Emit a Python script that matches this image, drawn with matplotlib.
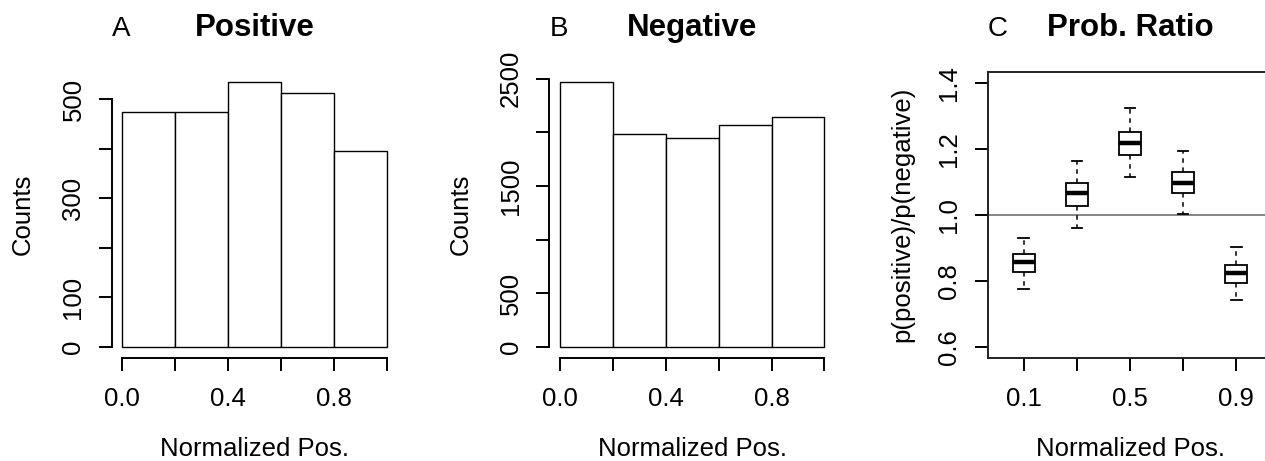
import matplotlib
matplotlib.use('Agg')
import matplotlib.pyplot as plt
import numpy as np

plt.rcParams['font.family'] = ['Liberation Sans', 'DejaVu Sans']

# histogram data (bin edges 0..1 by 0.2)
bin_edges = [0.0, 0.2, 0.4, 0.6, 0.8, 1.0]
pos_counts = [474, 474, 534, 512, 396]
neg_counts = [2466, 1981, 1947, 2071, 2139]

# box plot stats for the probability ratio
box_pos = ['0.1', '0.3', '0.5', '0.7', '0.9']
box_whislo = [0.777, 0.960, 1.114, 1.002, 0.742]
box_q1 = [0.829, 1.028, 1.183, 1.067, 0.794]
box_med = [0.857, 1.067, 1.219, 1.098, 0.824]
box_q3 = [0.881, 1.096, 1.253, 1.132, 0.849]
box_whishi = [0.932, 1.165, 1.324, 1.194, 0.904]

W, H = 1265, 461
fig = plt.figure(figsize=(W / 100, H / 100), dpi=100)

fs_tick = 18.5
fs_title = 22.5
fs_letter = 20
ax_lw = 1.4


def px_axes(left, width, top=71.8, bottom=357.5):
    return fig.add_axes([left / W, (H - bottom) / H, width / W, (bottom - top) / H])


def style_axes(ax):
    ax.tick_params(axis='both', direction='out', width=ax_lw, labelsize=fs_tick)
    ax.tick_params(axis='x', length=9, pad=12.5)
    ax.tick_params(axis='y', length=9.4, pad=9.5, labelrotation=90)
    for lab in ax.get_yticklabels():
        lab.set_va('center')


def labels(ax, letter, title, ylabel, ylab_x):
    ax.text(0.0, 1.1264, letter, transform=ax.transAxes, ha='left', va='baseline',
            fontsize=fs_letter)
    ax.text(0.5, 1.1264, title, transform=ax.transAxes, ha='center', va='baseline',
            fontsize=fs_title, fontweight='bold')
    ax.text(0.5, -0.3448, 'Normalized Pos.', transform=ax.transAxes, ha='center',
            va='baseline', fontsize=fs_tick)
    ax.text(ylab_x, 0.5, ylabel, transform=ax.transAxes, ha='center', va='center',
            rotation=90, fontsize=fs_tick)


def hist_panel(ax, counts, yticks, ylabels, letter, title):
    lefts = bin_edges[:-1]
    widths = np.diff(bin_edges)
    ax.bar(lefts, counts, width=widths, align='edge', color='white',
           edgecolor='black', linewidth=1.0)
    ymax = max(counts)
    ax.set_xlim(-0.04, 1.04)
    ax.set_ylim(-0.04 * ymax, 1.04 * ymax)
    for s in ['top', 'right']:
        ax.spines[s].set_visible(False)
    ax.spines['left'].set_bounds(yticks[0], yticks[-1])
    ax.spines['bottom'].set_bounds(0, 1)
    for s in ['left', 'bottom']:
        ax.spines[s].set_linewidth(ax_lw)
    ax.set_xticks(bin_edges)
    ax.set_xticklabels(['0.0', '', '0.4', '', '0.8', ''])
    ax.set_yticks(yticks)
    ax.set_yticklabels(ylabels)
    style_axes(ax)
    labels(ax, letter, title, 'Counts', -0.31)


axA = px_axes(111.7, 285.6)
hist_panel(axA, pos_counts, [0, 100, 200, 300, 400, 500],
           ['0', '100', '', '300', '', '500'], 'A', 'Positive')

axB = px_axes(549.4, 285.6)
hist_panel(axB, neg_counts, [0, 500, 1000, 1500, 2000, 2500],
           ['0', '500', '', '1500', '', '2500'], 'B', 'Negative')

# panel C: box plots (frame runs past the right edge of the figure)
axC = px_axes(987.7, 284.6)
stats = []
for i in range(len(box_pos)):
    stats.append({'whislo': box_whislo[i], 'q1': box_q1[i], 'med': box_med[i],
                  'q3': box_q3[i], 'whishi': box_whishi[i], 'fliers': []})
positions = np.arange(1, len(box_pos) + 1)
axC.axhline(1.0, color='#707070', linewidth=1.2, zorder=1)
axC.bxp(stats, positions=positions, widths=0.41, showfliers=False,
        patch_artist=True,
        boxprops=dict(facecolor='white', edgecolor='black', linewidth=1.3),
        medianprops=dict(color='black', linewidth=3.2),
        whiskerprops=dict(color='black', linewidth=1.1, linestyle=(0, (3, 3))),
        capprops=dict(color='black', linewidth=1.3), capwidths=0.2)
axC.set_xlim(0.32, 5.68)
axC.set_ylim(0.569, 1.434)
for s in axC.spines.values():
    s.set_linewidth(ax_lw)
    s.set_color('#222222')
axC.set_xticks(positions)
axC.set_xticklabels(['0.1', '', '0.5', '', '0.9'])
axC.set_yticks([0.6, 0.8, 1.0, 1.2, 1.4])
axC.set_yticklabels(['0.6', '0.8', '1.0', '1.2', '1.4'])
style_axes(axC)
labels(axC, 'C', 'Prob. Ratio', 'p(positive)/p(negative)', -0.299)

fig.savefig('out.png', dpi=100)
